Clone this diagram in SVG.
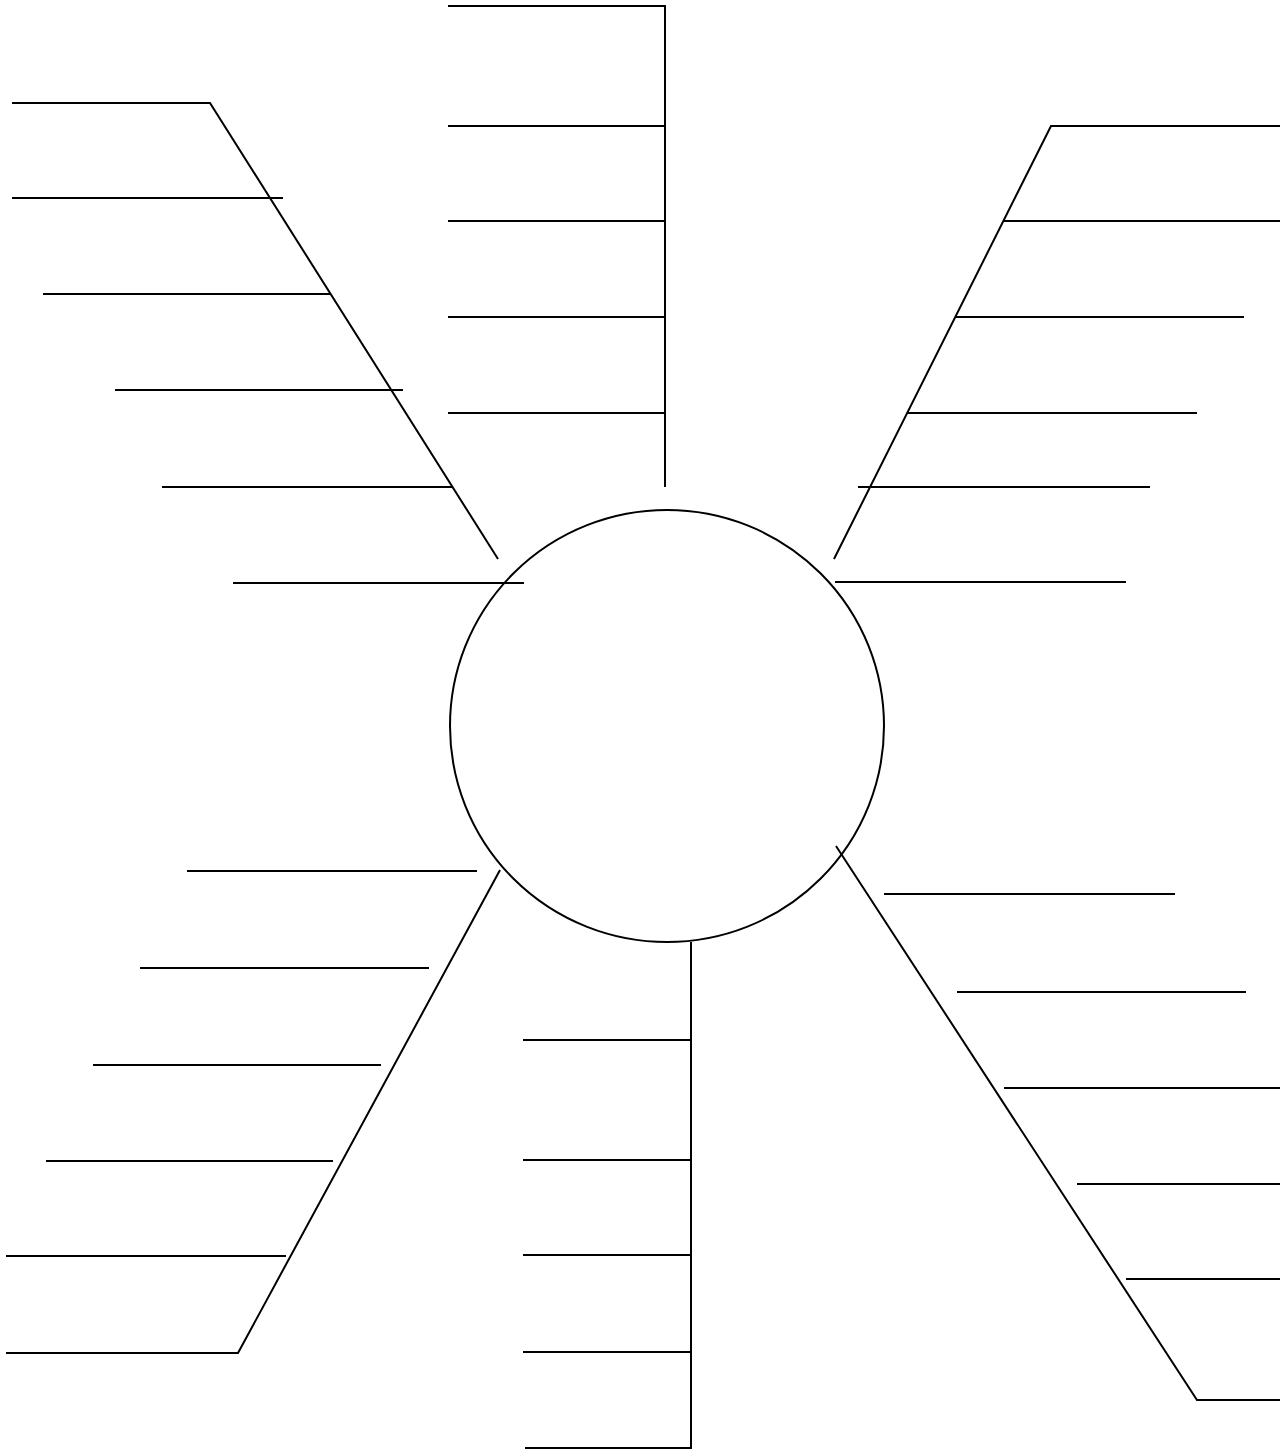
<svg xmlns="http://www.w3.org/2000/svg" width="1280" height="1455" viewBox="0 0 1280 1455">
<style>
.l{stroke:#000;stroke-width:2;fill:none;stroke-linecap:butt}
</style>
<rect width="1280" height="1455" fill="#fff"/>
<g id="center">
<ellipse class="l" cx="667" cy="726" rx="217" ry="216"/>
</g>
<g id="connectors">
<!-- top -->
<g id="branch-top">
<polyline class="l" points="448,6 665,6 665,487"/>
<line class="l" x1="448" y1="126" x2="665" y2="126"/>
<line class="l" x1="448" y1="221" x2="665" y2="221"/>
<line class="l" x1="448" y1="317" x2="665" y2="317"/>
<line class="l" x1="448" y1="413" x2="665" y2="413"/>
</g>
<!-- upper left -->
<g id="branch-upper-left">
<polyline class="l" points="12,103 210,103 498,559"/>
<line class="l" x1="12" y1="198" x2="283" y2="198"/>
<line class="l" x1="43" y1="294" x2="330" y2="294"/>
<line class="l" x1="115" y1="390" x2="403" y2="390"/>
<line class="l" x1="162" y1="487" x2="452" y2="487"/>
<line class="l" x1="233" y1="583" x2="524" y2="583"/>
</g>
<!-- upper right -->
<g id="branch-upper-right">
<polyline class="l" points="1280,126 1051,126 834,559"/>
<line class="l" x1="1003" y1="221" x2="1280" y2="221"/>
<line class="l" x1="956" y1="317" x2="1244" y2="317"/>
<line class="l" x1="907" y1="413" x2="1197" y2="413"/>
<line class="l" x1="858" y1="487" x2="1150" y2="487"/>
<line class="l" x1="835" y1="582" x2="1126" y2="582"/>
</g>
<!-- lower left -->
<g id="branch-lower-left">
<polyline class="l" points="500,870 238,1353 6,1353"/>
<line class="l" x1="187" y1="871" x2="477" y2="871"/>
<line class="l" x1="140" y1="968" x2="429" y2="968"/>
<line class="l" x1="93" y1="1065" x2="381" y2="1065"/>
<line class="l" x1="46" y1="1161" x2="333" y2="1161"/>
<line class="l" x1="6" y1="1256" x2="286" y2="1256"/>
</g>
<!-- bottom -->
<g id="branch-bottom">
<polyline class="l" points="691,942 691,1448 525,1448"/>
<line class="l" x1="523" y1="1040" x2="691" y2="1040"/>
<line class="l" x1="523" y1="1160" x2="691" y2="1160"/>
<line class="l" x1="523" y1="1255" x2="691" y2="1255"/>
<line class="l" x1="523" y1="1352" x2="691" y2="1352"/>
</g>
<!-- lower right -->
<g id="branch-lower-right">
<polyline class="l" points="836,846 1197,1400 1280,1400"/>
<line class="l" x1="884" y1="894" x2="1175" y2="894"/>
<line class="l" x1="957" y1="992" x2="1246" y2="992"/>
<line class="l" x1="1004" y1="1088" x2="1280" y2="1088"/>
<line class="l" x1="1077" y1="1184" x2="1280" y2="1184"/>
<line class="l" x1="1126" y1="1279" x2="1280" y2="1279"/>
</g>
</g>
</svg>
